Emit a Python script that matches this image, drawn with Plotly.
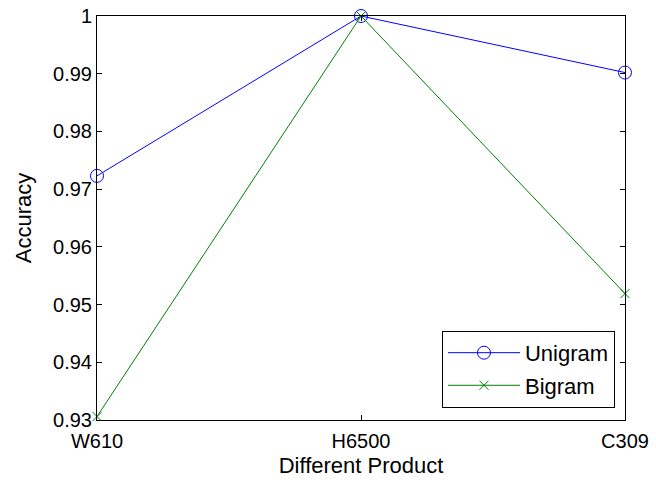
import plotly.graph_objects as go

categories = ["W610", "H6500", "C309"]
unigram = [0.9723, 1.0, 0.9902]
bigram = [0.9306, 1.0, 0.9519]
y_ticks = [0.93, 0.94, 0.95, 0.96, 0.97, 0.98, 0.99, 1.0]
y_ticklabels = ["0.93", "0.94", "0.95", "0.96", "0.97", "0.98", "0.99", "1"]

FONT = "Liberation Sans, Arial, Helvetica, sans-serif"

fig = go.Figure()
fig.add_trace(go.Scatter(
    x=categories, y=unigram, name="Unigram", mode="lines+markers",
    legendgroup="u",
    line=dict(color="rgb(0,0,255)", width=1),
    marker=dict(symbol="circle-open", size=13, color="rgb(0,0,255)",
                line=dict(width=1, color="rgb(0,0,255)")),
    cliponaxis=False,
))
fig.add_trace(go.Scatter(
    x=categories, y=bigram, name="Bigram", mode="lines+markers",
    legendgroup="b",
    line=dict(color="rgb(0,128,0)", width=1),
    marker=dict(symbol="x-thin-open", size=9, color="rgb(0,128,0)",
                line=dict(width=1, color="rgb(0,128,0)")),
    cliponaxis=False,
))

fig.update_layout(
    width=656, height=485,
    margin=dict(l=97, r=31, t=16, b=65, pad=0, autoexpand=False),
    paper_bgcolor="white", plot_bgcolor="white",
    font=dict(family=FONT, size=20, color="black"),
    showlegend=True,
    legend=dict(
        x=0.981, y=0.03, xanchor="right", yanchor="bottom",
        bgcolor="white", bordercolor="black", borderwidth=1,
        font=dict(family=FONT, size=22, color="black"),
        itemwidth=72, tracegroupgap=1,
    ),
    xaxis=dict(
        type="category", range=[0, 2], automargin=False,
        tickmode="array", tickvals=categories, ticktext=categories,
        showgrid=False, zeroline=False,
        showline=True, linecolor="black", linewidth=1, mirror="ticks",
        ticks="inside", ticklen=5, tickcolor="black",
        ticklabeloverflow="allow", ticklabelstandoff=3,
        title=dict(text="Different Product", font=dict(size=22), standoff=6),
        tickfont=dict(size=20),
    ),
    yaxis=dict(
        range=[0.93, 1.0], automargin=False,
        tickmode="array", tickvals=y_ticks, ticktext=y_ticklabels,
        showgrid=False, zeroline=False,
        showline=True, linecolor="black", linewidth=1, mirror="ticks",
        ticks="inside", ticklen=5, tickcolor="black",
        ticklabeloverflow="allow",
        title=dict(text="Accuracy", font=dict(size=22)),
        tickfont=dict(size=20),
    ),
)

# remove the page body's default 8px margin so the figure fills the window
fig.write_html("out.html", config={"displayModeBar": False},
               post_script="document.body.style.margin='0';")
